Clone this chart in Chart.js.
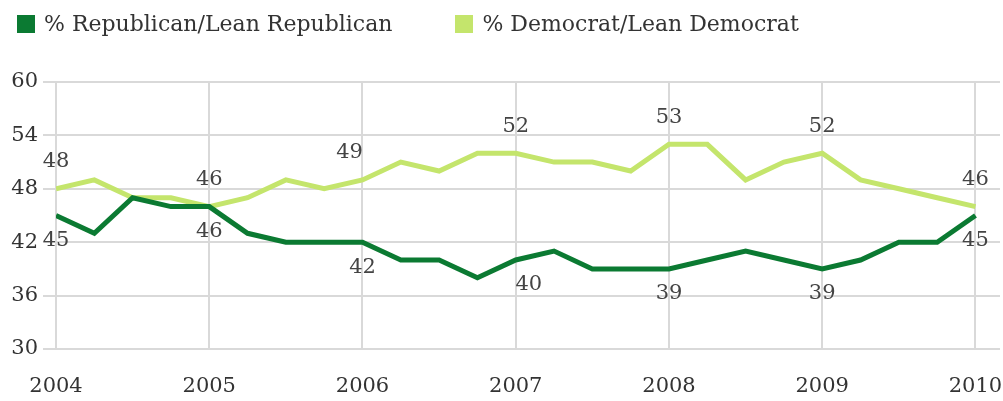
<!DOCTYPE html>
<html>
<head>
<meta charset="utf-8">
<title>Party identification, 2004-2010</title>
<script src="https://cdn.jsdelivr.net/npm/chart.js@4.4.1/dist/chart.umd.min.js"></script>
<style>
  html, body { margin: 0; padding: 0; background: #fff; }
  #wrap { position: relative; width: 1003px; height: 401px; }
  #legend {
    position: absolute; left: 17px; top: 11px; display: flex;
    font: 22px "DejaVu Serif", serif; color: #333;
  }
  .item { display: flex; align-items: center; margin-right: 63px; }
  .swatch { width: 18px; height: 18px; margin-right: 9px; }
</style>
</head>
<body>
<div id="wrap">
  <canvas id="partyChart" width="1003" height="401"></canvas>
  <div id="legend"></div>
</div>
<script>
// quarterly readings, 2004 through 2010
const quarters = [
  2004.0, 2004.25, 2004.5, 2004.75,
  2005.0, 2005.25, 2005.5, 2005.75,
  2006.0, 2006.25, 2006.5, 2006.75,
  2007.0, 2007.25, 2007.5, 2007.75,
  2008.0, 2008.25, 2008.5, 2008.75,
  2009.0, 2009.25, 2009.5, 2009.75,
  2010.0
];
const republican = [45, 43, 47, 46, 46, 43, 42, 42, 42, 40, 40, 38, 40, 41, 39, 39, 39, 40, 41, 40, 39, 40, 42, 42, 45];
const democrat   = [48, 49, 47, 47, 46, 47, 49, 48, 49, 51, 50, 52, 52, 51, 51, 50, 53, 53, 49, 51, 52, 49, 48, 47, 46];

const yearTicks = [2004, 2005, 2006, 2007, 2008, 2009, 2010];
const valueTicks = [30, 36, 42, 48, 54, 60];
// points that get a number printed next to them (start of each year)
const labelledPoints = [0, 4, 8, 12, 16, 20, 24];

const seriesNames = ['% Republican/Lean Republican', '% Democrat/Lean Democrat'];
const seriesColors = ['#0b7a32', '#c4e56c'];

const serif = '"DejaVu Serif", serif';

// writes the value above (Democrat) or below (Republican) the yearly points
const pointLabels = {
  id: 'pointLabels',
  afterDatasetsDraw(chart, args, opts) {
    const ctx = chart.ctx;
    ctx.save();
    ctx.font = '21px ' + serif;
    ctx.fillStyle = '#444';
    ctx.textAlign = 'center';
    ctx.textBaseline = 'middle';
    chart.data.datasets.forEach((ds, di) => {
      const meta = chart.getDatasetMeta(di);
      const dy = ds.labelAbove ? -27 : 25;
      const nudge = (opts.nudge && opts.nudge[di]) || {};
      labelledPoints.forEach(i => {
        const pt = meta.data[i];
        ctx.fillText(String(ds.data[i].y), pt.x + (nudge[i] || 0), pt.y + dy);
      });
    });
    ctx.restore();
  }
};

const toPoints = values => values.map((v, i) => ({ x: quarters[i], y: v }));

const chart = new Chart(document.getElementById('partyChart'), {
  type: 'line',
  data: {
    datasets: [
      {
        label: seriesNames[0],
        data: toPoints(republican),
        borderColor: seriesColors[0],
        backgroundColor: seriesColors[0],
        borderWidth: 5,
        pointRadius: 0,
        tension: 0,
        labelAbove: false
      },
      {
        label: seriesNames[1],
        data: toPoints(democrat),
        borderColor: seriesColors[1],
        backgroundColor: seriesColors[1],
        borderWidth: 5,
        pointRadius: 0,
        tension: 0,
        labelAbove: true
      }
    ]
  },
  options: {
    responsive: false,
    animation: false,
    layout: { padding: { top: 82, right: 3, left: 0, bottom: 0 } },
    plugins: {
      legend: { display: false },
      tooltip: { enabled: false },
      // a couple of labels sit a little off-centre so they clear the lines
      pointLabels: { nudge: { 0: { 12: 13 }, 1: { 8: -13 } } }
    },
    scales: {
      x: {
        type: 'linear',
        min: 2004,
        max: 2010.16,
        afterBuildTicks: s => { s.ticks = yearTicks.map(v => ({ value: v })); },
        afterFit: s => { s.height = 52; s.paddingLeft = 0; s.paddingRight = 0; },
        grid: { color: '#d9d9d9', lineWidth: 2, drawTicks: false },
        border: { display: false },
        ticks: {
          padding: 25,
          color: '#333',
          font: { family: serif, size: 21 },
          maxRotation: 0,
          callback: v => String(v)
        }
      },
      y: {
        min: 30,
        max: 60,
        afterBuildTicks: s => { s.ticks = valueTicks.map(v => ({ value: v })); },
        afterFit: s => { s.width = 56; s.paddingTop = 0; s.paddingBottom = 0; },
        grid: { color: '#d9d9d9', lineWidth: 2, tickLength: 13 },
        border: { display: false },
        ticks: {
          padding: 5,
          color: '#333',
          font: { family: serif, size: 21 }
        }
      }
    }
  },
  plugins: [pointLabels]
});

// legend built from the datasets
const legend = document.getElementById('legend');
chart.data.datasets.forEach(ds => {
  const item = document.createElement('div');
  item.className = 'item';
  const sw = document.createElement('span');
  sw.className = 'swatch';
  sw.style.background = ds.borderColor;
  const txt = document.createElement('span');
  txt.textContent = ds.label;
  item.appendChild(sw);
  item.appendChild(txt);
  legend.appendChild(item);
});
</script>
</body>
</html>
